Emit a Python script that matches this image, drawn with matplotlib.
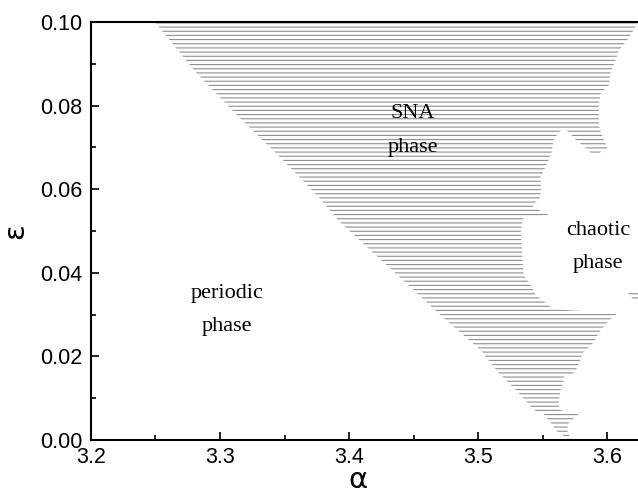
import matplotlib
matplotlib.use("Agg")
import matplotlib.pyplot as plt

# SNA region boundary (alpha, epsilon)
# right boundary from top to bottom
right_alpha = [3.6238, 3.6207, 3.6161, 3.6091, 3.6068, 3.6029, 3.6013, 3.5951, 3.5936, 3.5936,
               3.5951, 3.5975, 3.6006, 3.5951, 3.5928, 3.5874, 3.5835, 3.5757, 3.5703, 3.5664,
               3.5626, 3.5587, 3.5571, 3.5548, 3.5486, 3.5486, 3.5424, 3.5432, 3.5486, 3.5540,
               3.5540, 3.5354, 3.5331, 3.5346, 3.5354, 3.5408, 3.5447, 3.5525, 3.5563, 3.5656,
               3.6083, 3.6044, 3.6005, 3.5951, 3.5897, 3.5812, 3.5773, 3.5742, 3.5664, 3.5664,
               3.5641, 3.5626, 3.5626, 3.5781, 3.5734, 3.5703, 3.5695, 3.5695, 3.5711]
right_eps = [0.1000, 0.0981, 0.0959, 0.0931, 0.0911, 0.0880, 0.0849, 0.0830, 0.0801, 0.0754,
             0.0737, 0.0718, 0.0699, 0.0689, 0.0684, 0.0687, 0.0699, 0.0718, 0.0737, 0.0744,
             0.0737, 0.0718, 0.0689, 0.0670, 0.0629, 0.0581, 0.0562, 0.0557, 0.0548, 0.0543,
             0.0538, 0.0533, 0.0502, 0.0426, 0.0395, 0.0371, 0.0347, 0.0328, 0.0318, 0.0311,
             0.0304, 0.0294, 0.0282, 0.0263, 0.0234, 0.0208, 0.0175, 0.0160, 0.0151, 0.0141,
             0.0120, 0.0091, 0.0072, 0.0062, 0.0050, 0.0041, 0.0031, 0.0019, 0.0007]
# left boundary from bottom to top
left_alpha = [3.5680, 3.5618, 3.5564, 3.5509, 3.5432, 3.5292, 3.5161, 3.5021, 3.4750, 3.4416,
              3.3936, 3.3765, 3.3471, 3.3122, 3.2812, 3.2494]
left_eps = [0.0007, 0.0019, 0.0041, 0.0062, 0.0072, 0.0120, 0.0160, 0.0215, 0.0287, 0.0383,
            0.0519, 0.0581, 0.0675, 0.0780, 0.0880, 0.1000]
# small isolated SNA patch in the chaotic region
patch_alpha = [3.6161, 3.6238, 3.6238, 3.6200]
patch_eps = [0.0351, 0.0351, 0.0337, 0.0337]

x_ticks = [3.2, 3.3, 3.4, 3.5, 3.6]
y_ticks = [0.00, 0.02, 0.04, 0.06, 0.08, 0.10]

plt.rcParams['hatch.linewidth'] = 0.8
hatch_col = '#8f8f8f'

fig = plt.figure(figsize=(6.38, 4.93), dpi=100)
ax = fig.add_axes([0.1426, 0.1075, 0.8574, 0.8479])

poly_a = right_alpha + left_alpha
poly_e = right_eps + left_eps
ax.fill(poly_a, poly_e, facecolor='none', edgecolor=hatch_col, hatch='----', linewidth=0)
ax.fill(patch_alpha, patch_eps, facecolor='none', edgecolor=hatch_col, hatch='----', linewidth=0)

ax.set_xlim(3.2, 3.624)
ax.set_ylim(0.0, 0.1)
ax.set_xticks(x_ticks)
ax.set_yticks(y_ticks)
ax.set_xticklabels(['3.2', '3.3', '3.4', '3.5', '3.6'])
ax.set_yticklabels(['0.00', '0.02', '0.04', '0.06', '0.08', '0.10'])
ax.set_xticks([3.25, 3.35, 3.45, 3.55], minor=True)
ax.set_yticks([0.01, 0.03, 0.05, 0.07, 0.09], minor=True)
ax.tick_params(which='major', direction='in', length=6, width=1.2, labelsize=15.5, pad=5)
ax.tick_params(which='minor', direction='in', length=3.5, width=1.2)
ax.tick_params(axis='y', pad=6)
for lab in ax.get_xticklabels() + ax.get_yticklabels():
    lab.set_fontfamily('Liberation Sans')
ax.spines['right'].set_visible(False)
for s in ['left', 'bottom', 'top']:
    ax.spines[s].set_linewidth(1.5)

ax.set_xlabel('α', fontsize=21, family='DejaVu Sans')
ax.xaxis.set_label_coords(0.488, -0.062)
ax.set_ylabel('ε', fontsize=21, family='DejaVu Sans', labelpad=8)

serif = 'Liberation Serif'
ax.text(3.4494, 0.0740, 'SNA\nphase', ha='center', va='center', fontsize=16,
        family=serif, linespacing=2.1)
ax.text(3.3052, 0.0312, 'periodic\nphase', ha='center', va='center', fontsize=16,
        family=serif, linespacing=2.0)
ax.text(3.5933, 0.0462, 'chaotic\nphase', ha='center', va='center', fontsize=16,
        family=serif, linespacing=2.0)

fig.savefig('out.png', dpi=100)
